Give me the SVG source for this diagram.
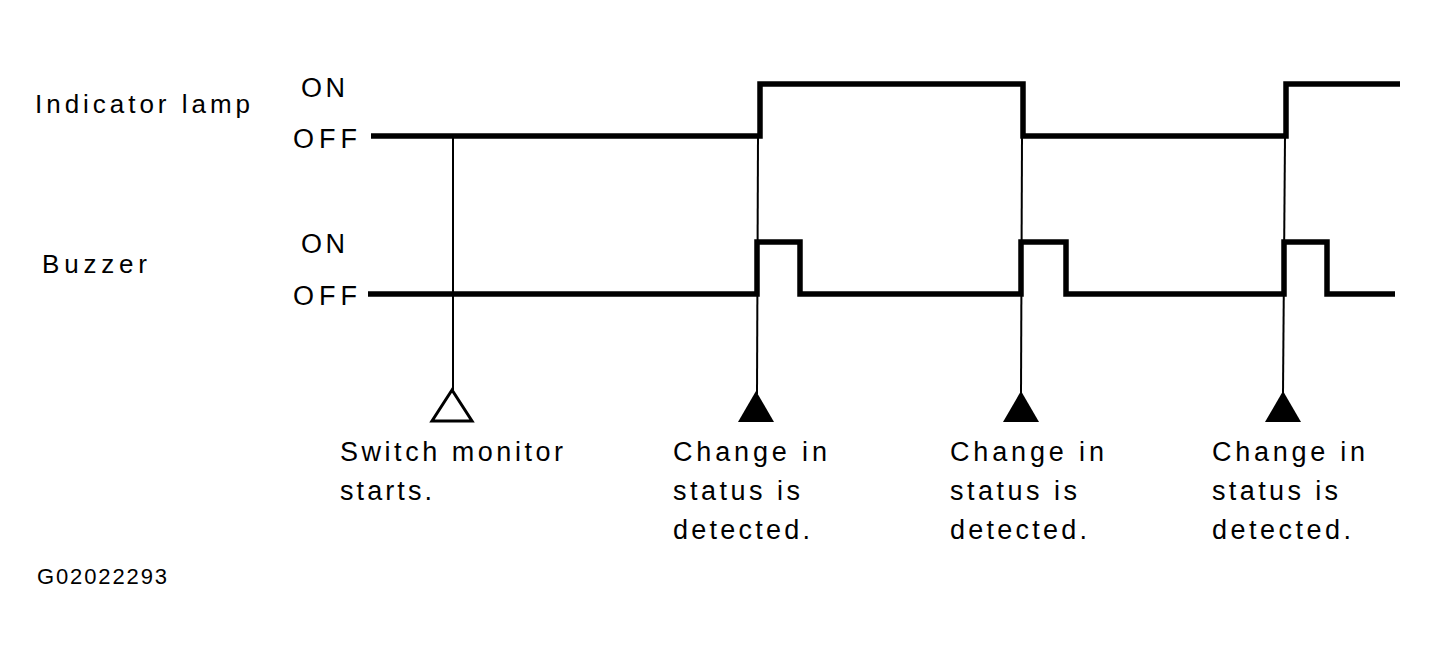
<svg xmlns="http://www.w3.org/2000/svg" width="1438" height="660" viewBox="0 0 1438 660">
<style>
  text { font-family: "Liberation Sans", Arial, sans-serif; fill: #000; }
  .lbl { font-size: 26px; }
  .st { font-size: 27px; }
  .sig { fill: none; stroke: #000; stroke-width: 5.5; stroke-linejoin: miter; }
  .thin { stroke: #000; stroke-width: 2; fill: none; }
</style>
<rect width="1438" height="660" fill="#fff"/>
<g id="labels">
  <text class="lbl" x="35" y="113" textLength="215" lengthAdjust="spacing">Indicator lamp</text>
  <text class="lbl" x="42" y="273" textLength="105" lengthAdjust="spacing">Buzzer</text>
  <text class="st" x="301" y="97" font-size="28" textLength="44" lengthAdjust="spacing">ON</text>
  <text class="st" x="293" y="148" font-size="28" textLength="64" lengthAdjust="spacing">OFF</text>
  <text class="st" x="301" y="253" font-size="28" textLength="44" lengthAdjust="spacing">ON</text>
  <text class="st" x="293" y="305" font-size="28" textLength="64" lengthAdjust="spacing">OFF</text>
  <text x="37" y="584" font-size="22" textLength="130" lengthAdjust="spacing">G02022293</text>
</g>
<g id="signals">
  <polyline id="lamp" class="sig" points="371,136 760,136 760,84 1023,84 1023,136 1286,136 1286,84 1400,84"/>
  <polyline id="buzzer" class="sig" points="368,294 757,294 757,242 800,242 800,294 1021,294 1021,242 1066,242 1066,294 1284,294 1284,242 1327,242 1327,294 1395,294"/>
</g>
<g id="connectors">
  <line class="thin" x1="453" y1="136" x2="453" y2="390"/>
  <line class="thin" x1="758" y1="136" x2="757" y2="394"/>
  <line class="thin" x1="1022" y1="136" x2="1021" y2="394"/>
  <line class="thin" x1="1285" y1="136" x2="1283" y2="394"/>
</g>
<g id="marker-start">
  <polygon points="452,390 432,421 472,421" fill="#fff" stroke="#000" stroke-width="3"/>
  <text class="st" x="340" y="461" textLength="223" lengthAdjust="spacing">Switch monitor</text>
  <text class="st" x="340" y="500" textLength="92" lengthAdjust="spacing">starts.</text>
</g>
<g id="marker-1">
  <polygon points="756,391 738,422 774,422" fill="#000"/>
  <text class="st" x="673" y="461" textLength="154" lengthAdjust="spacing">Change in</text>
  <text class="st" x="673" y="500" textLength="127" lengthAdjust="spacing">status is</text>
  <text class="st" x="673" y="539" textLength="137" lengthAdjust="spacing">detected.</text>
</g>
<g id="marker-2">
  <polygon points="1021,391 1003,422 1039,422" fill="#000"/>
  <text class="st" x="950" y="461" textLength="154" lengthAdjust="spacing">Change in</text>
  <text class="st" x="950" y="500" textLength="127" lengthAdjust="spacing">status is</text>
  <text class="st" x="950" y="539" textLength="137" lengthAdjust="spacing">detected.</text>
</g>
<g id="marker-3">
  <polygon points="1283,391 1265,422 1301,422" fill="#000"/>
  <text class="st" x="1212" y="461" textLength="153" lengthAdjust="spacing">Change in</text>
  <text class="st" x="1212" y="500" textLength="126" lengthAdjust="spacing">status is</text>
  <text class="st" x="1212" y="539" textLength="139" lengthAdjust="spacing">detected.</text>
</g>
</svg>
